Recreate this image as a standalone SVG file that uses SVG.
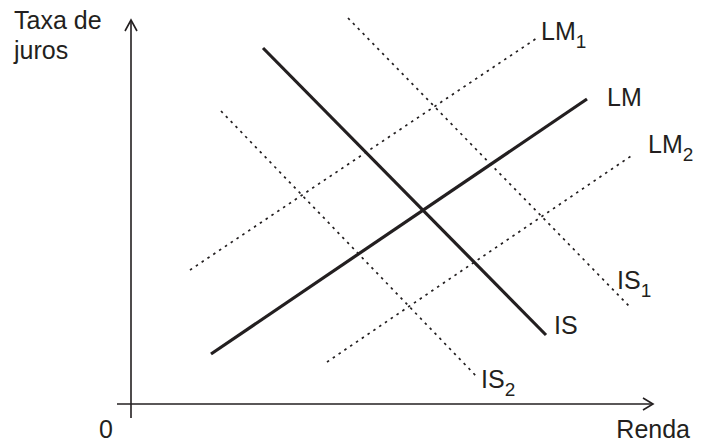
<svg xmlns="http://www.w3.org/2000/svg" width="708" height="443" viewBox="0 0 708 443">
<style>
text{font-family:"Liberation Sans",Arial,sans-serif;font-size:25px;fill:#231f20}
.sub{font-size:19px}
.axis{stroke:#231f20;stroke-width:1.6;fill:none}
.solid{stroke:#231f20;stroke-width:3.2;fill:none}
.dot{stroke:#231f20;stroke-width:1.7;stroke-dasharray:2.5 4.5;fill:none}
</style>
<rect width="708" height="443" fill="#fff"/>
<g id="axes">
<line class="axis" x1="131" y1="20" x2="131" y2="418"/>
<polyline class="axis" points="125,31 131,20 137,31"/>
<line class="axis" x1="117" y1="404" x2="653" y2="404"/>
<polyline class="axis" points="643,398 653,404 643,410"/>
<text x="14" y="29">Taxa de</text>
<text x="14" y="59">juros</text>
<text x="99" y="438">0</text>
<text x="690" y="438" text-anchor="end">Renda</text>
</g>
<g id="connectors">
<line id="IS" class="solid" x1="263" y1="48" x2="546" y2="335"/>
<line id="LM" class="solid" x1="211" y1="354" x2="587" y2="99"/>
<line id="LM1" class="dot" x1="190" y1="270" x2="537" y2="38"/>
<line id="LM2" class="dot" x1="327" y1="362" x2="634" y2="154"/>
<line id="IS1" class="dot" x1="348" y1="18" x2="630" y2="307"/>
<line id="IS2" class="dot" x1="221" y1="111" x2="478" y2="378"/>
</g>
<g id="labels">
<text x="541" y="40">LM<tspan class="sub" dy="8">1</tspan></text>
<text x="607" y="106">LM</text>
<text x="648" y="153">LM<tspan class="sub" dy="8">2</tspan></text>
<text x="617" y="289">IS<tspan class="sub" dy="8">1</tspan></text>
<text x="554" y="334">IS</text>
<text x="481" y="388">IS<tspan class="sub" dy="8">2</tspan></text>
</g>
</svg>
